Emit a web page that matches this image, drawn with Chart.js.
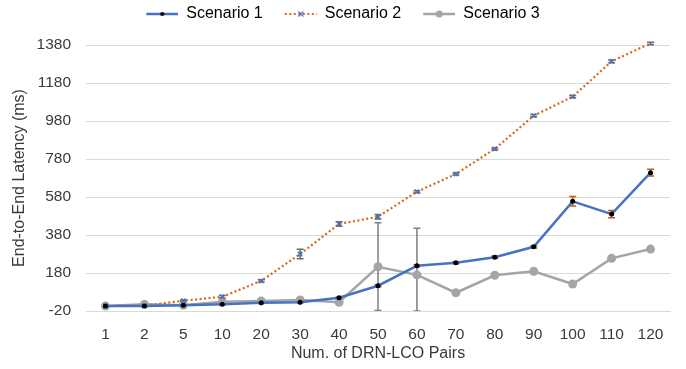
<!DOCTYPE html>
<html>
<head>
<meta charset="utf-8">
<script src="https://cdn.jsdelivr.net/npm/chart.js@4"></script>
<style>
  html, body { margin: 0; padding: 0; background: #fff; }
  #wrap { width: 686px; height: 369px; }
</style>
</head>
<body>
<div id="wrap"><canvas id="chart" width="686" height="369"></canvas></div>
<script>
const pairs = ['1', '2', '5', '10', '20', '30', '40', '50', '60', '70', '80', '90', '100', '110', '120'];

const scenario1 = [6, 6, 10, 15, 24, 26, 50, 113, 218, 234, 263, 318, 557, 490, 708];
const scenario2 = [6, 8, 34, 55, 138, 280, 438, 476, 608, 701, 833, 1008, 1108, 1294, 1389];
const scenario3 = [6, 15, 10, 29, 33, 38, 26, 213, 170, 76, 168, 189, 122, 257, 306];

const errors1 = [2, 2, 2, 3, 3, 3, 4, 5, 5, 5, 6, 6, 25, 19, 18];
const errors2 = [2, 3, 4, 6, 6, 25, 12, 12, 5, 5, 5, 6, 6, 7, 6];
const errors3 = [0, 0, 0, 0, 0, 0, 0, 231, 245, 0, 0, 0, 0, 0, 0];

const yTicks = [-20, 180, 380, 580, 780, 980, 1180, 1380];

const BLUE = '#4472C4';
const ORANGE = '#D9661F';
const GRAY = '#A5A5A5';
const TEXT = '#3a3a3a';
const GRID = '#D9D9D9';

// legend swatch: line with the marker in the middle, blank space on the left as item spacing
function swatch(color, dash, marker) {
  const c = document.createElement('canvas');
  c.width = 48;
  c.height = 12;
  const g = c.getContext('2d');
  g.strokeStyle = color;
  g.lineWidth = dash ? 2 : 2.5;
  g.setLineDash(dash || []);
  g.beginPath();
  g.moveTo(16, 6);
  g.lineTo(48, 6);
  g.stroke();
  g.setLineDash([]);
  marker(g, 32, 6);
  return c;
}

const legendIcons = [
  swatch(BLUE, null, (g, x, y) => {
    g.fillStyle = '#000';
    g.beginPath(); g.arc(x, y, 2, 0, Math.PI * 2); g.fill();
  }),
  swatch(ORANGE, [2, 2.5], (g, x, y) => {
    g.strokeStyle = BLUE; g.lineWidth = 1.3;
    g.beginPath();
    g.moveTo(x - 2.5, y - 2.5); g.lineTo(x + 2.5, y + 2.5);
    g.moveTo(x + 2.5, y - 2.5); g.lineTo(x - 2.5, y + 2.5);
    g.stroke();
  }),
  swatch(GRAY, null, (g, x, y) => {
    g.fillStyle = GRAY;
    g.beginPath(); g.arc(x, y, 3.5, 0, Math.PI * 2); g.fill();
  }),
];

const errorBars = {
  id: 'errorBars',
  beforeDatasetsDraw(chart) {
    const { ctx, chartArea, scales: { y } } = chart;
    ctx.save();
    ctx.beginPath();
    ctx.rect(chartArea.left, chartArea.top - 10, chartArea.right - chartArea.left, chartArea.bottom - chartArea.top + 10);
    ctx.clip();
    chart.data.datasets.forEach((ds, i) => {
      const meta = chart.getDatasetMeta(i);
      ctx.strokeStyle = ds.errorColor;
      ctx.lineWidth = 1.5;
      ds.data.forEach((v, j) => {
        const e = ds.errors[j];
        if (!e) return;
        const x = meta.data[j].x;
        const y1 = y.getPixelForValue(Math.max(v - e, -20));
        const y2 = y.getPixelForValue(v + e);
        ctx.beginPath();
        ctx.moveTo(x, y1); ctx.lineTo(x, y2);
        ctx.moveTo(x - 3.5, y1); ctx.lineTo(x + 3.5, y1);
        ctx.moveTo(x - 3.5, y2); ctx.lineTo(x + 3.5, y2);
        ctx.stroke();
      });
    });
    ctx.restore();
  },
};

const legendHeight = {
  id: 'legendHeight',
  beforeInit(chart) {
    const fit = chart.legend.fit;
    chart.legend.fit = function () {
      fit.call(this);
      this.height = 45;
    };
  },
};

Chart.defaults.font.family = '"Liberation Sans", Arial, sans-serif';
Chart.defaults.color = TEXT;

new Chart(document.getElementById('chart'), {
  type: 'line',
  data: {
    labels: pairs,
    datasets: [
      {
        label: 'Scenario 1',
        data: scenario1,
        errors: errors1,
        errorColor: '#C55A11',
        borderColor: BLUE,
        borderWidth: 2.5,
        pointStyle: 'circle',
        pointRadius: 2.5,
        pointBackgroundColor: '#000',
        pointBorderColor: '#000',
        pointBorderWidth: 0,
        legendIcon: legendIcons[0],
      },
      {
        label: 'Scenario 2',
        data: scenario2,
        errors: errors2,
        errorColor: '#6b6b6b',
        borderColor: ORANGE,
        borderWidth: 2.2,
        borderDash: [2, 2.5],
        pointStyle: 'crossRot',
        pointRadius: 3,
        pointBorderColor: BLUE,
        pointBorderWidth: 1.6,
        legendIcon: legendIcons[1],
      },
      {
        label: 'Scenario 3',
        data: scenario3,
        errors: errors3,
        errorColor: '#7f7f7f',
        borderColor: GRAY,
        borderWidth: 2.5,
        pointStyle: 'circle',
        pointRadius: 4.5,
        pointBackgroundColor: GRAY,
        pointBorderColor: GRAY,
        pointBorderWidth: 0,
        legendIcon: legendIcons[2],
      },
    ],
  },
  options: {
    responsive: false,
    animation: false,
    layout: {
      padding: { left: 0, right: 16, top: 0, bottom: 0 },
    },
    plugins: {
      legend: {
        position: 'top',
        labels: {
          usePointStyle: true,
          pointStyleWidth: 48,
          padding: 6,
          color: '#000',
          font: { size: 16 },
          generateLabels(chart) {
            return chart.data.datasets.map((ds, i) => ({
              text: ds.label,
              pointStyle: ds.legendIcon,
              fillStyle: 'transparent',
              strokeStyle: 'transparent',
              lineWidth: 0,
              datasetIndex: i,
              hidden: false,
            }));
          },
        },
      },
      tooltip: { enabled: false },
    },
    scales: {
      x: {
        offset: true,
        grid: { display: false, offset: true },
        border: { color: GRID },
        ticks: {
          color: TEXT,
          font: { size: 15.5 },
          padding: 6,
          autoSkip: false,
          maxRotation: 0,
        },
        title: {
          display: true,
          text: 'Num. of DRN-LCO Pairs',
          color: TEXT,
          font: { size: 16 },
          padding: { top: 0, bottom: 6 },
        },
        afterFit(scale) {
          scale.height = 58;
        },
      },
      y: {
        min: yTicks[0],
        max: yTicks[yTicks.length - 1],
        afterBuildTicks(scale) {
          scale.ticks = yTicks.map(v => ({ value: v }));
        },
        grid: { color: GRID, drawTicks: false },
        border: { display: false },
        ticks: {
          color: TEXT,
          font: { size: 15.5 },
          padding: 15,
          callback: v => String(v),
        },
        title: {
          display: true,
          text: 'End-to-End Latency (ms)',
          color: TEXT,
          font: { size: 16 },
          padding: { top: 10, bottom: 0 },
        },
        afterFit(scale) {
          scale.width = 86;
        },
      },
    },
  },
  plugins: [errorBars, legendHeight],
});
</script>
</body>
</html>
